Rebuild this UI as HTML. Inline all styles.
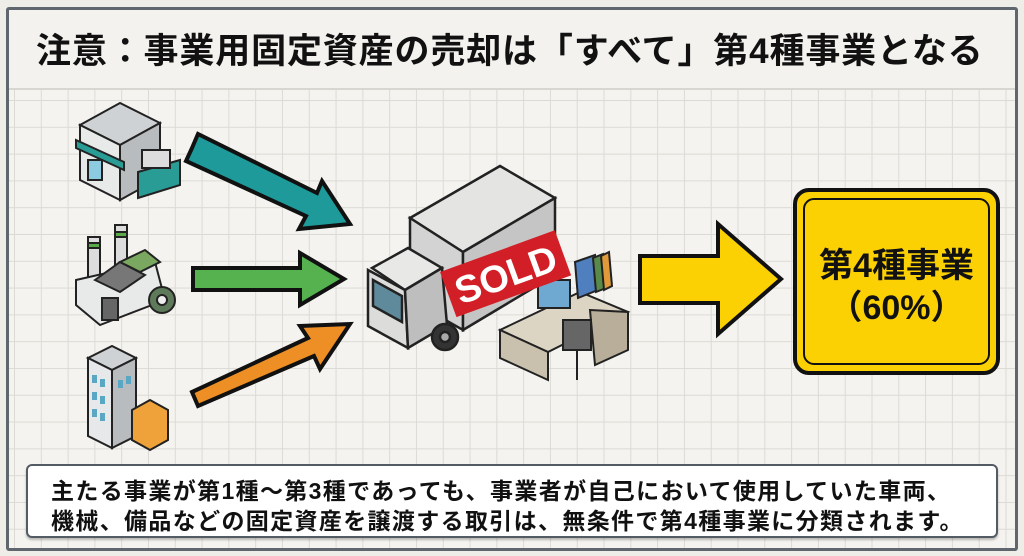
<!DOCTYPE html>
<html><head><meta charset="utf-8"><style>
html,body{margin:0;padding:0;}
body{width:1024px;height:556px;background:#efede7;position:relative;overflow:hidden;font-family:"Liberation Sans","Noto Sans CJK JP",sans-serif;}
.frame{position:absolute;left:6px;top:7px;width:1006px;height:538px;border:3px solid #5f666e;border-radius:3px;background:#f4f3ef;}
.title{position:absolute;left:0;top:0;width:1006px;height:78px;border-bottom:2px solid #d8d6d0;background:#f3f2ee;}
.title span{position:absolute;left:27px;top:13px;font-size:35px;font-weight:bold;color:#111;letter-spacing:0.85px;white-space:nowrap;}
.grid{position:absolute;left:0;top:80px;width:1006px;height:458px;
background-image:linear-gradient(#dcdad4 1px,transparent 1px),linear-gradient(90deg,#dcdad4 1px,transparent 1px);
background-size:26.8px 26.8px;background-position:5px 10px;}
.note{position:absolute;left:26px;top:464px;width:968px;height:70px;background:#fff;border:2px solid #535b64;border-radius:6px;box-shadow:0 2px 2px rgba(0,0,0,.25);}
.note div{position:absolute;left:23px;font-size:23px;font-weight:bold;color:#111;white-space:nowrap;letter-spacing:1.35px;}
.box{position:absolute;left:793px;top:188px;width:199px;height:179px;background:#fcd104;border:4px solid #111;border-radius:16px;}
.box .in{position:absolute;left:6px;top:6px;right:6px;bottom:6px;border:2px solid #111;border-radius:11px;}
.box .t{position:absolute;left:0;width:100%;text-align:center;font-weight:bold;color:#111;font-size:34px;}
</style></head><body>
<div class="frame">
 <div class="title"><span>注意：事業用固定資産の売却は「すべて」第4種事業となる</span></div>
 <div class="grid"></div>
</div>
<svg width="1024" height="556" style="position:absolute;left:0;top:0">
 <g stroke="#111" stroke-width="4" stroke-linejoin="miter">
  <polygon fill="#1e9a9a" points="192,148 198,134 317,193 322,181 350,224 299,229 306,216 186,161"/>
  <polygon fill="#55b24f" points="193,268 300,268 300,253 344,279 300,305 300,290 193,290"/>
  <polygon fill="#ee8f25" points="192,392 308,338 300,326 350,324 320,369 314,356 198,406"/>
  <polygon fill="#fcd104" points="640,256 718,256 718,224 781,279 718,334 718,303 640,303"/>
 </g>
 <g stroke="#222" stroke-width="2">
  <polygon fill="#cfd2d4" points="80,125 120,103 160,123 120,145"/>
  <polygon fill="#e8eaea" points="80,125 120,145 120,200 80,180"/>
  <polygon fill="#b9bcbf" points="120,145 160,123 160,178 120,200"/>
  <polygon fill="#2a9c96" points="76,140 124,162 124,170 76,148"/>
  <rect x="88" y="160" width="14" height="20" fill="#8ccbe0"/>
  <polygon fill="#2a9c96" points="138,172 180,160 180,185 138,198"/>
  <rect x="142" y="150" width="28" height="18" fill="#ddd"/>
 </g>
 <g stroke="#222" stroke-width="2">
  <rect x="88" y="237" width="12" height="45" fill="#ddd"/>
  <rect x="115" y="225" width="12" height="55" fill="#ddd"/>
  <rect x="88" y="243" width="12" height="5" fill="#5aaa4a"/>
  <rect x="115" y="232" width="12" height="5" fill="#5aaa4a"/>
  <polygon fill="#e8eaea" points="76,280 155,262 165,300 100,325 76,305"/>
  <polygon fill="#777" points="95,280 120,262 145,275 120,292"/>
  <polygon fill="#7aa860" points="120,262 145,250 160,262 140,272"/>
  <rect x="102" y="298" width="16" height="22" fill="#666"/>
  <circle cx="162" cy="300" r="13" fill="#5f7a5a"/>
  <circle cx="162" cy="300" r="5" fill="#eee"/>
 </g>
 <g stroke="#222" stroke-width="2">
  <polygon fill="#cfd2d4" points="88,358 112,346 136,358 112,370"/>
  <polygon fill="#e6e8e9" points="88,358 112,370 112,448 88,436"/>
  <polygon fill="#b9bcbf" points="112,370 136,358 136,436 112,448"/>
  <polygon fill="#f0a23a" points="132,410 150,400 168,410 168,440 150,450 132,440"/>
 </g>
 <g fill="#5aa7c4">
  <rect x="92" y="375" width="5" height="8"/><rect x="100" y="379" width="5" height="8"/>
  <rect x="92" y="392" width="5" height="8"/><rect x="100" y="396" width="5" height="8"/>
  <rect x="92" y="409" width="5" height="8"/><rect x="100" y="413" width="5" height="8"/>
  <rect x="118" y="380" width="5" height="8"/><rect x="126" y="376" width="5" height="8"/>
 </g>
 <g stroke="#222" stroke-width="2.5">
  <polygon fill="#e4e4e2" points="410,218 500,166 555,198 463,252"/>
  <polygon fill="#d2d3d2" points="410,218 463,252 463,330 410,300"/>
  <polygon fill="#c4c5c4" points="463,252 555,198 555,275 463,330"/>
  <polygon fill="#e8e8e6" points="372,268 408,248 442,268 405,290"/>
  <polygon fill="#dcdcda" points="368,270 405,290 408,348 368,326"/>
  <polygon fill="#5f8a9c" points="373,280 402,296 402,322 373,306"/>
  <polygon fill="#bdbebd" points="405,290 442,268 447,325 408,348"/>
  <circle cx="445" cy="337" r="13" fill="#333"/>
  <circle cx="445" cy="337" r="5" fill="#aaa"/>
 </g>
 <g stroke="#222" stroke-width="2">
  <polygon fill="#ddd5c4" points="500,330 580,292 628,312 548,352"/>
  <polygon fill="#c9c0ae" points="500,330 548,352 548,380 500,358"/>
  <polygon fill="#b8ae9a" points="590,310 628,312 628,350 595,365"/>
  <rect x="538" y="280" width="32" height="28" fill="#6fa8d0"/>
  <polygon fill="#4f7fbf" points="575,262 595,255 598,290 578,298"/>
  <polygon fill="#5a8a4a" points="593,258 603,254 606,288 596,292"/>
  <polygon fill="#e09a3a" points="601,256 609,252 612,286 604,290"/>
  <rect x="563" y="320" width="28" height="30" fill="#666"/>
  <line x1="577" y1="350" x2="577" y2="380"/>
 </g>
 <g transform="rotate(-20 505 275)">
  <rect x="445" y="250" width="122" height="48" fill="#d21f27"/>
  <text x="506" y="288" font-family="Liberation Sans,sans-serif" font-weight="bold" font-size="38" fill="#fff" text-anchor="middle">SOLD</text>
 </g>
</svg>
<div class="box"><div class="in"></div>
 <div class="t" style="top:46px">第4種事業</div>
 <div class="t" style="top:88px">（60%）</div>
</div>
<div class="note">
 <div style="top:6px">主たる事業が第1種〜第3種であっても、事業者が自己において使用していた車両、</div>
 <div style="top:36px">機械、備品などの固定資産を譲渡する取引は、無条件で第4種事業に分類されます。</div>
</div>
</body></html>
